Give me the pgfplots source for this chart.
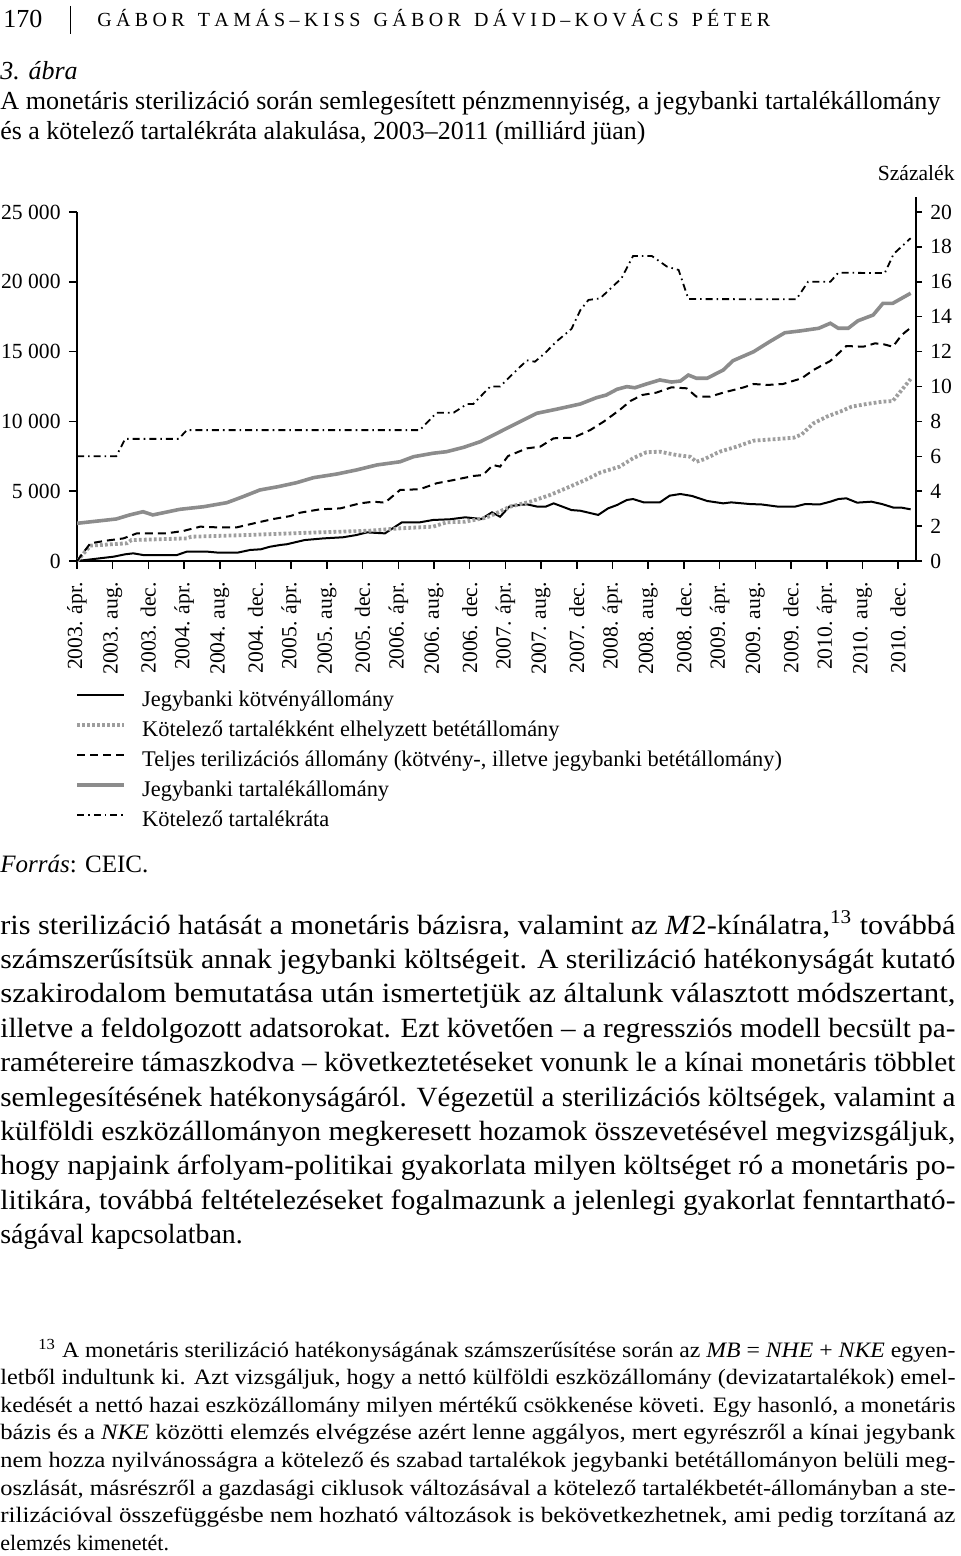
\documentclass[border=0pt]{standalone}
\usepackage{fontspec}
\setmainfont{Liberation Serif}
\usepackage{graphicx}
\usepackage{pgfplots}
\pgfplotsset{compat=1.18}
\definecolor{resgray}{gray}{0.55}
\definecolor{dotgray}{gray}{0.62}
\newcommand\tickfont{\fontsize{10.8pt}{12pt}\selectfont}
\newcommand\legfont{\fontsize{11.2pt}{12pt}\selectfont}
\newcommand\bodyfont{\fontsize{13.9pt}{16pt}\selectfont}
\newcommand\fnfont{\fontsize{11pt}{13pt}\selectfont}
\newcommand\titfont{\fontsize{13pt}{15pt}\selectfont}
\newcommand\jline[1]{\resizebox{477.5pt}{\height}{#1}}
\pgfplotsset{
  bondsty/.style={black, line width=1pt},
  reqsty/.style={dotgray, line width=1.9pt, dash pattern=on 1.4pt off 1.1pt},
  totsty/.style={black, line width=1pt, dash pattern=on 4pt off 2.5pt},
  ressty/.style={resgray, line width=1.8pt},
  ratsty/.style={black, line width=0.9pt, dash pattern=on 3.5pt off 2pt on 0.8pt off 2pt},
}
\begin{document}
\begin{tikzpicture}
\path[use as bounding box] (0,0) rectangle (480pt,-778pt);
\begin{axis}[
  at={(38.5pt,-280.5pt)}, anchor=south west,
  scale only axis, width=419.5pt, height=174.5pt,
  xmin=0, xmax=94, ymin=0, ymax=25000,
  axis x line*=bottom, axis y line*=left,
  axis line style={line width=0.75pt, -},
  tick style={line width=0.75pt, black},
  tick align=outside,
  major tick length=4pt,
  xtick={0,4,...,92},
  xticklabels={2003. ápr., 2003. aug., 2003. dec., 2004. ápr., 2004. aug., 2004. dec., 2005. ápr., 2005. aug., 2005. dec., 2006. ápr., 2006. aug., 2006. dec., 2007. ápr., 2007. aug., 2007. dec., 2008. ápr., 2008. aug., 2008. dec., 2009. ápr., 2009. aug., 2009. dec., 2010. ápr., 2010. aug., 2010. dec.},
  xticklabel style={yshift=-6.5pt, rotate=90, anchor=east, font=\tickfont, inner sep=0pt},
  ytick={0,5000,10000,15000,20000,25000},
  yticklabels={0,5 000,10 000,15 000,20 000,25 000},
  yticklabel style={font=\tickfont, inner sep=0pt, xshift=-4pt},
  scaled y ticks=false,
  legend style={at={(-0.0024,-0.3696)}, anchor=north west, draw=none, fill=none,
    font=\legfont, inner sep=0pt, row sep=4.5pt,
    nodes={inner sep=0pt, text height=8pt, text depth=2.5pt},
    /tikz/column 1/.style={column sep=8pt}},
  legend cell align=left,
  legend image code/.code={\draw[#1] (0pt,3pt) -- (23.5pt,3pt);},
]
\addplot[bondsty] coordinates {(0,0) (4.1,310) (5.4,480) (6.3,550) (7.4,430) (11.2,430) (12.3,670) (14.6,670) (15.8,600) (18,600) (19.4,790) (20.6,840) (21.6,1020) (22.8,1150) (23.5,1200) (25.5,1500) (27.6,1620) (29.8,1700) (31.3,1860) (32.5,2050) (34.5,1980) (36.4,2770) (38.4,2770) (39.9,2940) (41.8,2990) (43.5,3130) (45.3,3010) (46.5,3490) (47.4,3170) (48.5,3940) (50.4,4060) (51.6,3890) (52.5,3890) (53.4,4130) (55.4,3650) (56.4,3600) (58.4,3300) (59.5,3770) (60.5,4010) (61.6,4370) (62.3,4440) (63.5,4200) (65.3,4200) (66.4,4680) (67.6,4800) (68.9,4660) (70.6,4300) (72.4,4130) (73.3,4200) (75.4,4080) (76.7,4050) (78.6,3890) (80.4,3890) (81.6,4080) (83.2,4050) (84.4,4250) (85.3,4440) (86.2,4490) (87.4,4180) (89,4250) (90.2,4080) (91.5,3820) (92.4,3820) (93.4,3700)};
\addlegendentry{Jegybanki kötvényállomány}
\addplot[reqsty] coordinates {(0,0) (1.5,1100) (5.6,1270) (6.1,1500) (12.3,1620) (12.8,1740) (19,1860) (26.1,2030) (32.8,2170) (34.7,2270) (36.2,2340) (39.9,2460) (41.4,2770) (43.5,2820) (45.5,3060) (46.3,3220) (48.5,3890) (50.8,4250) (53,4730) (55.2,5320) (57.1,5850) (58.6,6330) (60.8,6760) (62.3,7360) (63.8,7790) (65.3,7830) (67.2,7590) (68.7,7470) (69.4,7110) (70.3,7300) (72,7830) (73.9,8190) (75.8,8620) (78,8720) (80.3,8830) (81.2,9070) (82.5,9860) (84,10340) (85.5,10700) (86.8,11060) (88.5,11250) (90.2,11410) (91.4,11460) (92.4,12250) (93.4,13040)};
\addlegendentry{Kötelező tartalékként elhelyzett betétállomány}
\addplot[totsty] coordinates {(0,0) (1.5,1270) (3.3,1460) (5.2,1620) (6.7,1980) (10,1980) (11.9,2150) (13.8,2460) (15.7,2410) (17.9,2410) (20.1,2740) (22,3010) (23.9,3220) (25,3460) (27.2,3700) (29.5,3770) (31.7,4130) (33.2,4250) (34.5,4180) (36.2,5090) (38.4,5140) (40.3,5570) (42.2,5800) (44.4,6090) (45.5,6160) (46.6,6880) (47.4,6760) (48.3,7520) (50.4,8070) (51.9,8190) (53.4,8790) (55.6,8830) (57.5,9380) (59,9980) (60.8,10820) (62,11460) (63.3,11890) (64.9,12060) (66.6,12440) (68.3,12370) (69.4,11770) (70.9,11770) (72.4,12060) (74.7,12440) (75.8,12680) (77.3,12610) (79.1,12680) (81.2,13090) (82.5,13680) (84.4,14330) (86.2,15400) (88.1,15350) (89.4,15590) (90.3,15540) (91.4,15350) (92.4,16190) (93.4,16710)};
\addlegendentry{Teljes terilizációs állomány (kötvény-, illetve jegybanki betétállomány)}
\addplot[ressty] coordinates {(0,2700) (4.4,3010) (5.9,3300) (7.4,3530) (8.5,3300) (11.5,3700) (14.2,3890) (16.8,4180) (18.6,4610) (20.5,5090) (22.5,5320) (24.6,5610) (26.5,5970) (29.1,6230) (31.3,6520) (33.6,6880) (36.2,7110) (37.7,7470) (39.9,7720) (41.4,7830) (43.3,8140) (45.2,8550) (46.6,9000) (48.5,9620) (50,10100) (51.5,10580) (53.7,10870) (56.4,11250) (58.2,11700) (59.3,11890) (60.5,12300) (61.6,12490) (62.5,12410) (63.8,12680) (65.3,12970) (66.6,12820) (67.6,12890) (68.5,13320) (69.4,13090) (70.6,13090) (72.4,13680) (73.5,14350) (75.8,14990) (77.6,15710) (79.3,16350) (81,16480) (83.1,16670) (84.4,17030) (85.3,16670) (86.4,16670) (87.5,17210) (89.2,17620) (90.3,18460) (91.4,18460) (93.4,19180)};
\addlegendentry{Jegybanki tartalékállomány}
\addlegendimage{ratsty}
\addlegendentry{Kötelező tartalékráta}
\end{axis}
\begin{axis}[
  at={(38.5pt,-280.5pt)}, anchor=south west,
  scale only axis, width=419.5pt, height=174.5pt,
  xmin=0, xmax=94, ymin=0, ymax=20,
  axis x line=none, axis y line*=right,
  axis line style={line width=0.75pt, -},
  tick style={line width=0.75pt, black},
  tick align=outside, major tick length=3pt,
  ytick={0,2,4,6,8,10,12,14,16,18,20},
  yticklabels={0,2,4,6,8,10,12,14,16,18,20},
  yticklabel style={font=\tickfont, inner sep=0pt, xshift=4pt},
  after end axis/.code={\draw[line width=0.75pt] (rel axis cs:1,1) -- ++(0pt,7.5pt);},
]
\addplot[ratsty] coordinates {(0,6) (4.4,6) (5.4,7) (11.4,7) (12.3,7.5) (38.4,7.5) (40.3,8.5) (42.2,8.5) (43.7,9) (44.4,9) (46.3,10) (47.4,10) (48.5,10.56) (50.4,11.5) (51.3,11.42) (52.4,11.9) (53.7,12.57) (55.4,13.3) (56.4,14.38) (57.3,14.96) (58.6,15.05) (59.4,15.43) (61,16.2) (62.3,17.48) (64.4,17.48) (66.1,16.87) (67.4,16.68) (68.5,15.01) (80.6,15) (81.9,16) (84.4,16) (85.3,16.52) (90.5,16.5) (91.5,17.6) (93.4,18.5)};
\end{axis}
\begin{scope}[x=0.5pt,y=-0.5pt, every node/.style={inner sep=0pt}]
% header
\node[anchor=base west] at (3,28) {\fontsize{13pt}{15pt}\selectfont 170};
\draw[line width=0.5pt] (70,6) -- (70,34);
\node[anchor=base west] at (97,27) {\fontsize{10pt}{12pt}\selectfont\makebox[336.5pt][s]{G\hfil Á\hfil B\hfil O\hfil R\hfil\hfil\hfil T\hfil A\hfil M\hfil Á\hfil S\hfil –\hfil K\hfil I\hfil S\hfil S\hfil\hfil\hfil G\hfil Á\hfil B\hfil O\hfil R\hfil\hfil\hfil D\hfil Á\hfil V\hfil I\hfil D\hfil –\hfil K\hfil O\hfil V\hfil Á\hfil C\hfil S\hfil\hfil\hfil P\hfil É\hfil T\hfil E\hfil R}};
% title
\node[anchor=base west] at (0,80) {\titfont\textit{3. ábra}};
\node[anchor=base west] at (0,110) {\titfont\resizebox{470pt}{\height}{A monetáris sterilizáció során semlegesített pénzmennyiség, a jegybanki tartalékállomány}};
\node[anchor=base west] at (0,140) {\titfont\resizebox{322.5pt}{\height}{és a kötelező tartalékráta alakulása, 2003–2011 (milliárd jüan)}};
\node[anchor=base east] at (955,181) {\tickfont Százalék};
% source
\node[anchor=base west] at (0,872) {\fontsize{12.5pt}{14pt}\selectfont\textit{Forrás}: CEIC.};
% body
\node[anchor=base west] at (0,934) {\bodyfont\jline{ris sterilizáció hatását a monetáris bázisra, valamint az \textit{M}2-kínálatra,\textsuperscript{13} továbbá}};
\node[anchor=base west] at (0,968.4) {\bodyfont\jline{számszerűsítsük annak jegybanki költségeit. A sterilizáció hatékonyságát kutató}};
\node[anchor=base west] at (0,1002.8) {\bodyfont\jline{szakirodalom bemutatása után ismertetjük az általunk választott módszertant,}};
\node[anchor=base west] at (0,1037.2) {\bodyfont\jline{illetve a feldolgozott adatsorokat. Ezt követően – a regressziós modell becsült pa-}};
\node[anchor=base west] at (0,1071.6) {\bodyfont\jline{ramétereire támaszkodva – következtetéseket vonunk le a kínai monetáris többlet}};
\node[anchor=base west] at (0,1106) {\bodyfont\jline{semlegesítésének hatékonyságáról. Végezetül a sterilizációs költségek, valamint a}};
\node[anchor=base west] at (0,1140.4) {\bodyfont\jline{külföldi eszközállományon megkeresett hozamok összevetésével megvizsgáljuk,}};
\node[anchor=base west] at (0,1174.8) {\bodyfont\jline{hogy napjaink árfolyam-politikai gyakorlata milyen költséget ró a monetáris po-}};
\node[anchor=base west] at (0,1209.2) {\bodyfont\jline{litikára, továbbá feltételezéseket fogalmazunk a jelenlegi gyakorlat fenntartható-}};
\node[anchor=base west] at (0,1243.6) {\bodyfont ságával kapcsolatban.};
% footnote
\node[anchor=base west] at (38,1357) {\fnfont\resizebox{458.5pt}{\height}{\textsuperscript{13} A monetáris sterilizáció hatékonyságának számszerűsítése során az \textit{MB} = \textit{NHE} + \textit{NKE} egyen-}};
\node[anchor=base west] at (0,1384.6) {\fnfont\jline{letből indultunk ki. Azt vizsgáljuk, hogy a nettó külföldi eszközállomány (devizatartalékok) emel-}};
\node[anchor=base west] at (0,1412.2) {\fnfont\jline{kedését a nettó hazai eszközállomány milyen mértékű csökkenése követi. Egy hasonló, a monetáris}};
\node[anchor=base west] at (0,1439.8) {\fnfont\jline{bázis és a \textit{NKE} közötti elemzés elvégzése azért lenne aggályos, mert egyrészről a kínai jegybank}};
\node[anchor=base west] at (0,1467.4) {\fnfont\jline{nem hozza nyilvánosságra a kötelező és szabad tartalékok jegybanki betétállományon belüli meg-}};
\node[anchor=base west] at (0,1495) {\fnfont\jline{oszlását, másrészről a gazdasági ciklusok változásával a kötelező tartalékbetét-állományban a ste-}};
\node[anchor=base west] at (0,1522.6) {\fnfont\jline{rilizációval összefüggésbe nem hozható változások is bekövetkezhetnek, ami pedig torzítaná az}};
\node[anchor=base west] at (0,1550.2) {\fnfont elemzés kimenetét.};
\end{scope}
\end{tikzpicture}
\end{document}
